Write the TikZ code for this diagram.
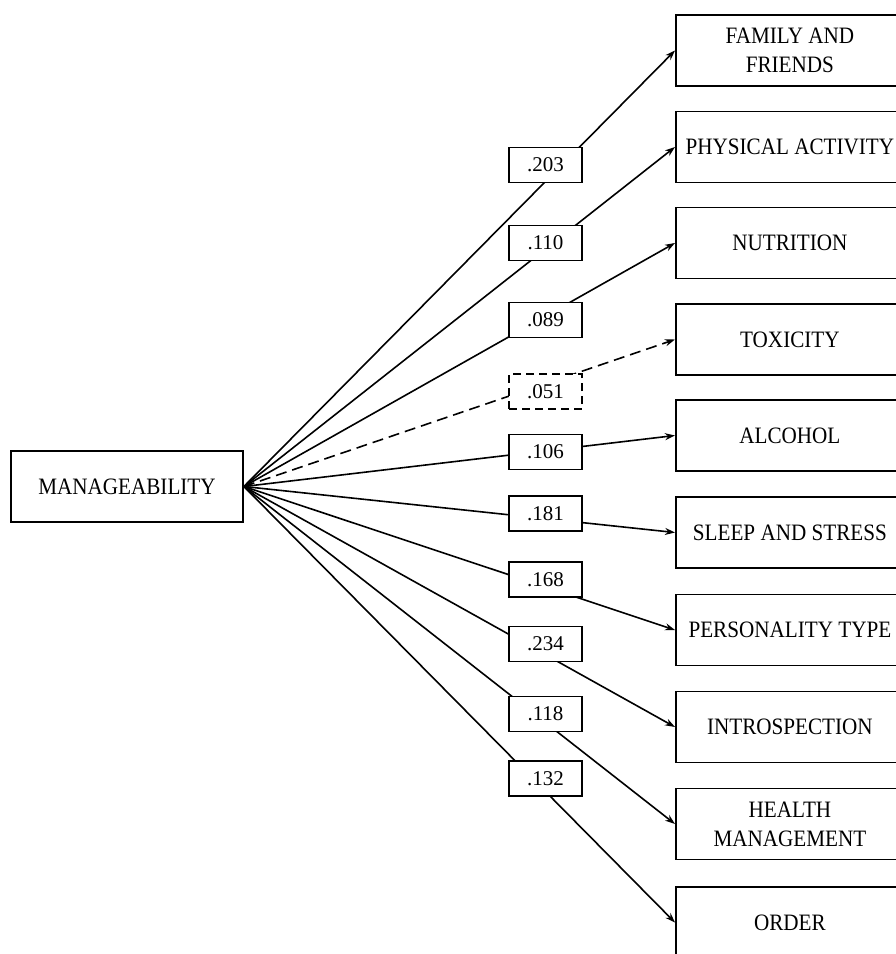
\documentclass[tikz,border=0pt]{standalone}
\usepackage{fontspec}
\setmainfont{Liberation Serif}
\newfontfamily\boxfont{Liberation Serif}[FakeStretch=0.9]
\usetikzlibrary{arrows.meta}
\begin{document}
\begin{tikzpicture}[x=1pt,y=-1pt,
  every node/.style={inner sep=0pt},
  bigtext/.style={font=\boxfont\fontsize{23.5}{29}\selectfont},
  mainbox/.style={bigtext, draw, line width=1.8pt, minimum width=232pt, minimum height=71pt},
  tgtbox/.style={bigtext, draw, line width=1.8pt, minimum width=228pt, minimum height=71pt, anchor=west, align=center},
  lblbox/.style={font=\fontsize{21}{25}\selectfont, draw, line width=1.6pt, fill=white, minimum width=73pt, minimum height=35pt},
  dashbox/.style={lblbox, dash pattern=on 8pt off 5pt},
  conn/.style={line width=1.6pt, -{Stealth[length=10pt,width=7pt]}},
  dconn/.style={conn, dash pattern=on 11pt off 6pt}]
\useasboundingbox (0,0) rectangle (896,954);
\node[mainbox] (M) at (127,486.5) {MANAGEABILITY};
\node[tgtbox] (t1) at (675,50.5) {FAMILY AND\\FRIENDS};
\node[tgtbox] (t2) at (675,147) {PHYSICAL ACTIVITY};
\node[tgtbox] (t3) at (675,243) {NUTRITION};
\node[tgtbox] (t4) at (675,339.5) {TOXICITY};
\node[tgtbox] (t5) at (675,435.5) {ALCOHOL};
\node[tgtbox] (t6) at (675,532.5) {SLEEP AND STRESS};
\node[tgtbox] (t7) at (675,630) {PERSONALITY TYPE};
\node[tgtbox] (t8) at (675,727) {INTROSPECTION};
\node[tgtbox] (t9) at (675,824) {HEALTH\\MANAGEMENT};
\node[tgtbox] (t10) at (675,922.5) {ORDER};
\draw[conn] (M.east) -- (t1.west);
\draw[conn] (M.east) -- (t2.west);
\draw[conn] (M.east) -- (t3.west);
\draw[dconn] (M.east) -- (t4.west);
\draw[conn] (M.east) -- (t5.west);
\draw[conn] (M.east) -- (t6.west);
\draw[conn] (M.east) -- (t7.west);
\draw[conn] (M.east) -- (t8.west);
\draw[conn] (M.east) -- (t9.west);
\draw[conn] (M.east) -- (t10.west);
\node[lblbox] (l1) at (545.5,165) {.203};
\node[lblbox] (l2) at (545.5,243) {.110};
\node[lblbox] (l3) at (545.5,320) {.089};
\node[dashbox] (l4) at (545.5,391.5) {.051};
\node[lblbox] (l5) at (545.5,452) {.106};
\node[lblbox] (l6) at (545.5,513.5) {.181};
\node[lblbox] (l7) at (545.5,579.5) {.168};
\node[lblbox] (l8) at (545.5,644) {.234};
\node[lblbox] (l9) at (545.5,714) {.118};
\node[lblbox] (l10) at (545.5,778.5) {.132};
\end{tikzpicture}
\end{document}
